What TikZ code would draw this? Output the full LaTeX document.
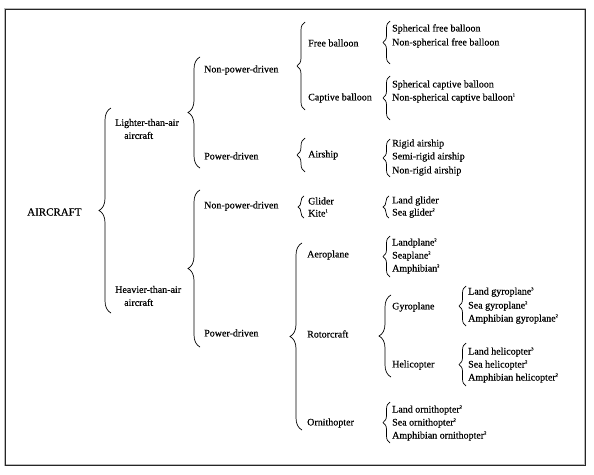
\documentclass[tikz,border=0pt]{standalone}
\usepackage{fontspec}
\setmainfont{Liberation Serif}[FakeBold=0.4]
\usetikzlibrary{decorations.pathreplacing}
\newcommand{\fnmark}[1]{\raisebox{4.2pt}{\fontsize{4.5}{5}\selectfont #1}}
\begin{document}
\begin{tikzpicture}[x=1pt,y=-1pt,
  lbl/.style={anchor=west,inner sep=0pt,font=\fontsize{10}{13}\selectfont,align=left},
  root/.style={anchor=west,inner sep=0pt,font=\fontsize{11}{13}\selectfont},
  brc/.style={decorate,decoration={brace,amplitude=#1},line width=0.7pt,black},
  brc/.default=8]
\useasboundingbox (0,0) rectangle (594,474);
% frame
\draw[gray!55,line width=2.6pt] (5,9) rectangle (585,465);
\draw[black!85,line width=1pt] (5,9) rectangle (585,465);
% level 0
\node[root] (air) at (27,212) {AIRCRAFT};
% level 1
\node[lbl] (lta) at (115,129) {Lighter-than-air\\\hspace*{9pt}aircraft};
\node[lbl] (hta) at (115,296) {Heavier-than-air\\\hspace*{9pt}aircraft};
% level 2
\node[lbl] (npd1) at (204,70) {Non-power-driven};
\node[lbl] (pd1) at (204,156) {Power-driven};
\node[lbl] (npd2) at (204,206) {Non-power-driven};
\node[lbl] (pd2) at (204,333) {Power-driven};
% level 3
\node[lbl] (free) at (308,43) {Free balloon};
\node[lbl] (capt) at (308,98) {Captive balloon};
\node[lbl] (ship) at (308,155) {Airship};
\node[lbl] (glid) at (308,201) {Glider};
\node[lbl] (kite) at (308,213) {Kite\fnmark{1}};
\node[lbl] (aero) at (307,255) {Aeroplane};
\node[lbl] (roto) at (307,334) {Rotorcraft};
\node[lbl] (orni) at (307,423) {Ornithopter};
% leaves
\node[lbl] (f1) at (392,29) {Spherical free balloon};
\node[lbl] (f2) at (392,43) {Non-spherical free balloon};
\node[lbl] (c1) at (392,85) {Spherical captive balloon};
\node[lbl] (c2) at (392,98) {Non-spherical captive balloon\fnmark{1}};
\node[lbl] (s1) at (392,144) {Rigid airship};
\node[lbl] (s2) at (392,157) {Semi-rigid airship};
\node[lbl] (s3) at (392,171) {Non-rigid airship};
\node[lbl] (g1) at (392,201) {Land glider};
\node[lbl] (g2) at (392,213) {Sea glider\fnmark{2}};
\node[lbl] (a1) at (392,243) {Landplane\fnmark{2}};
\node[lbl] (a2) at (392,256) {Seaplane\fnmark{2}};
\node[lbl] (a3) at (392,269) {Amphibian\fnmark{2}};
\node[lbl] (gyro) at (392,307) {Gyroplane};
\node[lbl] (heli) at (392,365) {Helicopter};
\node[lbl] (y1) at (468,292) {Land gyroplane\fnmark{3}};
\node[lbl] (y2) at (468,306) {Sea gyroplane\fnmark{2}};
\node[lbl] (y3) at (468,319) {Amphibian gyroplane\fnmark{2}};
\node[lbl] (h1) at (468,352) {Land helicopter\fnmark{3}};
\node[lbl] (h2) at (468,365) {Sea helicopter\fnmark{2}};
\node[lbl] (h3) at (468,378) {Amphibian helicopter\fnmark{2}};
\node[lbl] (o1) at (392,410) {Land ornithopter\fnmark{2}};
\node[lbl] (o2) at (392,423) {Sea ornithopter\fnmark{2}};
\node[lbl] (o3) at (392,436) {Amphibian ornithopter\fnmark{2}};
% braces (drawn bottom to top so the tip points left)
\draw[brc=12] (111,313) -- (111,108);
\draw[brc=12] (200,168) -- (200,57);
\draw[brc=12] (200,347) -- (200,190);
\draw[brc=8] (305,110) -- (305,22);
\draw[brc=8] (305,172) -- (305,138);
\draw[brc=6] (304,218) -- (304,196);
\draw[brc=12] (302,430) -- (302,243);
\draw[brc=7] (390,64) -- (390,21);
\draw[brc=7] (390,120) -- (390,76);
\draw[brc=7] (390,177) -- (390,139);
\draw[brc=6] (389,218) -- (389,196);
\draw[brc=7] (390,277) -- (390,236);
\draw[brc=12] (391,377) -- (391,295);
\draw[brc=7] (466,326) -- (466,286);
\draw[brc=7] (466,386) -- (466,343);
\draw[brc=7] (390,443) -- (390,402);
\end{tikzpicture}
\end{document}
